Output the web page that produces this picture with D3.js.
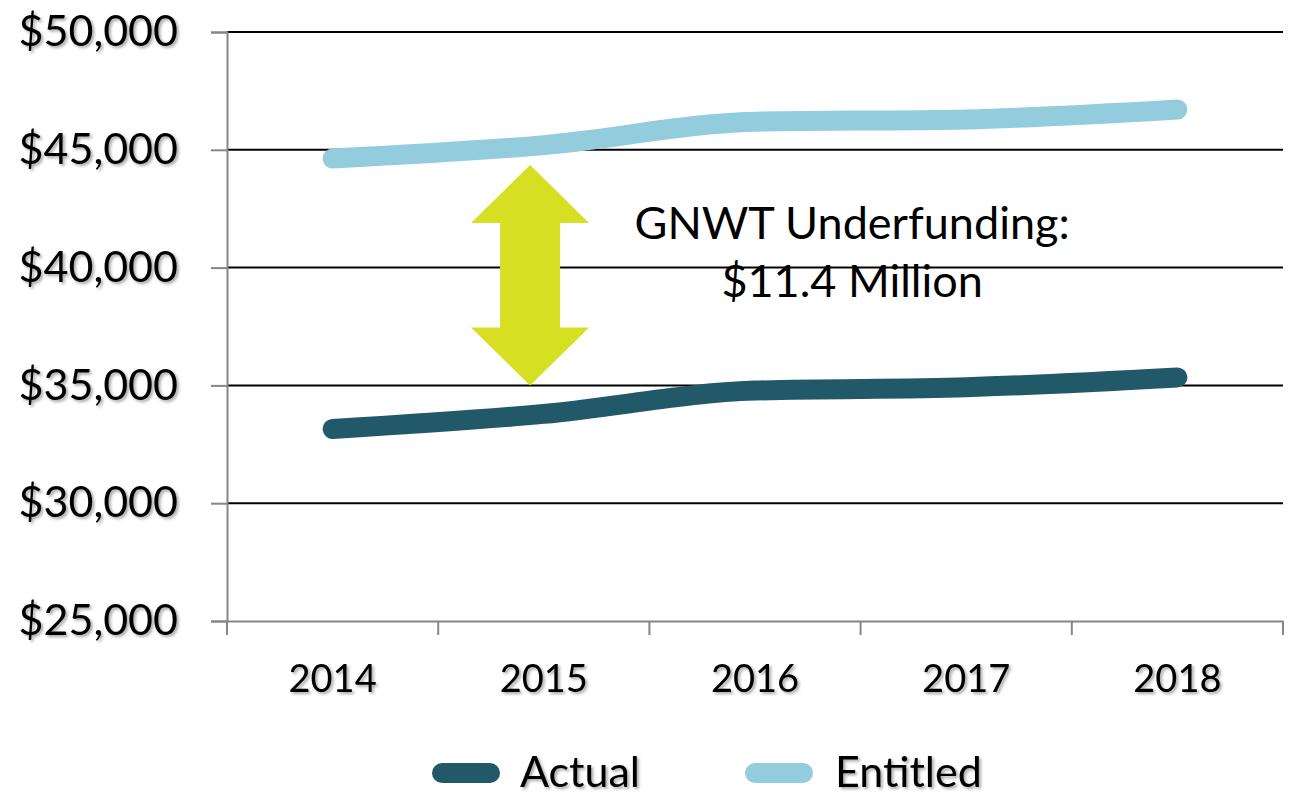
<!DOCTYPE html>
<html>
<head>
<meta charset="utf-8">
<script src="https://cdn.jsdelivr.net/npm/d3@7"></script>
<style>
    body { margin: 0; background: #fff; }
    svg { display: block; font-family: Lato, "Open Sans", sans-serif; }
</style>
</head>
<body>
<figure id="chart" style="margin:0"></figure>
<script>
// data
var years = ["2014", "2015", "2016", "2017", "2018"];
var actual = [33150, 33790, 34780, 34920, 35340];
var entitled = [44630, 45200, 46190, 46290, 46710];
var yTicks = [25000, 30000, 35000, 40000, 45000, 50000];
var seriesNames = ["Actual", "Entitled"];
var noteLines = ["GNWT Underfunding:", "$11.4 Million"];

let dimensions = {
    width: 1291,
    height: 796,
    margin: { top: 32, right: 8, bottom: 175, left: 227 },
};
dimensions.boundedWidth = dimensions.width - dimensions.margin.left - dimensions.margin.right;
dimensions.boundedHeight = dimensions.height - dimensions.margin.top - dimensions.margin.bottom;

var colors = { Actual: "#215968", Entitled: "#93cddd" };

var root = d3.select("figure#chart")
    .append("svg")
    .attr("width", dimensions.width)
    .attr("height", dimensions.height);

// soft shadow behind the axis / legend text
var filter = root.append("defs").append("filter")
    .attr("id", "shadow")
    .attr("x", "-10%").attr("y", "-20%")
    .attr("width", "130%").attr("height", "150%");
filter.append("feDropShadow")
    .attr("dx", 2).attr("dy", 2)
    .attr("stdDeviation", 1.5)
    .attr("flood-color", "#000")
    .attr("flood-opacity", 0.35);

var svg = root.append("g")
    .attr("transform", `translate(${dimensions.margin.left}, ${dimensions.margin.top})`);

var xScale = d3.scaleBand()
    .domain(years)
    .range([0, dimensions.boundedWidth]);

var yScale = d3.scaleLinear()
    .domain([25000, 50000])
    .range([dimensions.boundedHeight, 0]);

// gridlines
svg.selectAll("line.grid")
    .data(yTicks.filter(d => d > 25000))
    .enter()
    .append("line")
    .attr("class", "grid")
    .attr("x1", 0)
    .attr("x2", dimensions.boundedWidth)
    .attr("y1", d => yScale(d))
    .attr("y2", d => yScale(d))
    .attr("stroke", "#000")
    .attr("stroke-width", 2);

// y axis
var yAxis = svg.append("g")
    .attr("class", "y axis")
    .call(d3.axisLeft(yScale)
        .tickValues(yTicks)
        .tickSize(16)
        .tickPadding(33)
        .tickFormat(d3.format("$,")));
yAxis.select(".domain").attr("stroke", "#868686").attr("stroke-width", 2);
yAxis.selectAll(".tick line").attr("stroke", "#868686").attr("stroke-width", 2);
yAxis.selectAll("text")
    .attr("font-size", 43)
    .attr("font-family", "Lato, sans-serif")
    .attr("fill", "#000")
    .attr("filter", "url(#shadow)");

// x axis
var xAxis = svg.append("g")
    .attr("class", "x axis")
    .attr("transform", `translate(0, ${dimensions.boundedHeight})`)
    .call(d3.axisBottom(xScale).tickSize(0).tickPadding(44));
xAxis.select(".domain").attr("stroke", "#868686").attr("stroke-width", 2);
xAxis.selectAll("text")
    .attr("font-size", 38)
    .attr("font-family", "Lato, sans-serif")
    .attr("fill", "#000")
    .attr("filter", "url(#shadow)");

// category boundary ticks
xAxis.selectAll("line.bound")
    .data(years.map(d => xScale(d)).concat([xScale.range()[1]]))
    .enter()
    .append("line")
    .attr("class", "bound")
    .attr("x1", d => d).attr("x2", d => d)
    .attr("y1", 0).attr("y2", 14)
    .attr("stroke", "#868686")
    .attr("stroke-width", 2);

// lines
var line = d3.line()
    .x((d, i) => xScale(years[i]) + xScale.bandwidth() / 2)
    .y(d => yScale(d))
    .curve(d3.curveMonotoneX);

var series = [
    { name: "Actual", values: actual },
    { name: "Entitled", values: entitled },
];

svg.selectAll("path.series")
    .data(series)
    .enter()
    .append("path")
    .attr("class", "series")
    .attr("d", d => line(d.values))
    .attr("fill", "none")
    .attr("stroke", d => colors[d.name])
    .attr("stroke-width", 20)
    .attr("stroke-linecap", "round")
    .attr("stroke-linejoin", "round");

// double arrow showing the gap
var arrowCx = xScale("2015") + xScale.bandwidth() * 0.435;
var arrowTop = yScale(44350);
var arrowBottom = yScale(35000);
var headW = 59, shaftW = 30, headH = 58;
var arrowPts = [
    [arrowCx, arrowTop],
    [arrowCx + headW, arrowTop + headH],
    [arrowCx + shaftW, arrowTop + headH],
    [arrowCx + shaftW, arrowBottom - headH],
    [arrowCx + headW, arrowBottom - headH],
    [arrowCx, arrowBottom],
    [arrowCx - headW, arrowBottom - headH],
    [arrowCx - shaftW, arrowBottom - headH],
    [arrowCx - shaftW, arrowTop + headH],
    [arrowCx - headW, arrowTop + headH],
];
svg.append("polygon")
    .attr("points", arrowPts.map(p => p.join(",")).join(" "))
    .attr("fill", "#d7df23");

// annotation
var noteX = xScale("2017") - xScale.bandwidth() * 0.04;
svg.selectAll("text.note")
    .data(noteLines)
    .enter()
    .append("text")
    .attr("class", "note")
    .attr("x", noteX)
    .attr("y", (d, i) => yScale(41200) + i * 58)
    .attr("text-anchor", "middle")
    .attr("font-size", 45)
    .attr("font-family", "Lato, sans-serif")
    .attr("fill", "#000")
    .text(d => d);

// legend
var legendX = [432, 745];
var legend = root.selectAll("g.legend")
    .data(seriesNames)
    .enter()
    .append("g")
    .attr("class", "legend")
    .attr("transform", (d, i) => `translate(${legendX[i]}, 773)`);

legend.append("line")
    .attr("x1", 10).attr("x2", 58)
    .attr("y1", 0).attr("y2", 0)
    .attr("stroke", d => colors[d])
    .attr("stroke-width", 20)
    .attr("stroke-linecap", "round");

legend.append("text")
    .attr("x", (d, i) => i === 0 ? 88 : 90)
    .attr("y", 14)
    .attr("font-size", 43)
    .attr("font-family", "Lato, sans-serif")
    .attr("fill", "#000")
    .attr("filter", "url(#shadow)")
    .text(d => d);
</script>
</body>
</html>
